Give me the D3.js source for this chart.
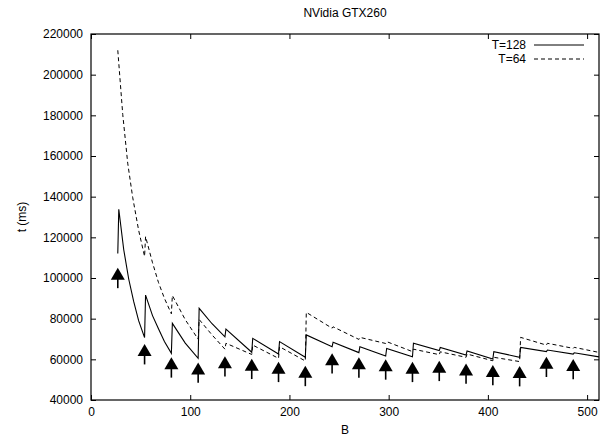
<!DOCTYPE html>
<html><head><meta charset="utf-8">
<script src="https://cdn.jsdelivr.net/npm/d3@7"></script>
<style>
body{margin:0;background:#fff}
text{font-family:"Liberation Sans",Arial,Helvetica,sans-serif;font-size:12px;fill:#000}
</style>
</head><body><svg id="c" width="605" height="437"></svg>
<script>
// ---- data ----
const title = "NVidia GTX260";
const xLabel = "B";
const yLabel = "t (ms)";
const xTicks = [0,100,200,300,400,500];
const yTicks = [40000,60000,80000,100000,120000,140000,160000,180000,200000,220000];

const seriesNames = ["T=128","T=64"];

const b128 = [27,28,33,38,43,48,54, 55,62,68,74,81, 82,95,108, 109,122,135, 136,162, 163,189, 190,216,
  217,243, 244,270, 271,297, 298,324, 325,351, 352,378, 379,405, 406,432, 433,459, 460,486, 487,512];
const t128 = [112000,133800,113900,99500,88500,79000,70700, 91600,81500,75000,68800,63000, 77700,68000,60500,
  85100,77500,71100, 74900,63500, 70300,62600, 68700,61000, 72000,66200, 68400,63300, 66200,61600,
  65400,61300, 67900,64300, 65800,62100, 64100,60200, 63800,61000, 65900,63800, 64600,62600, 63200,61200];

const b64 = [27,32,37,42,48,54, 55,62,68,74,81, 82,95,108, 109,122,135, 136,162, 163,189, 190,216,
  217,243, 244,270, 271,297, 298,324, 325,351, 352,378, 379,405, 406,432, 433,459, 460,486, 487,512];
const t64 = [212000,180400,156500,139700,123500,110600, 120400,107500,97800,90000,82400, 91400,79500,69900,
  79600,72000,65000, 67900,62400, 67000,60500, 66200,59200, 83100,75300, 76000,69800, 70800,67800,
  68700,63800, 65000,62300, 63700,61000, 62600,59300, 61000,58900, 70800,67000, 67900,65400, 65900,63400];

const arrowB = [27,54,81,108,135,162,189,216,243,270,297,324,351,378,405,432,459,486];
const arrowT = [105000,67500,61000,58500,61500,60300,58800,56800,63000,61000,60000,58800,59300,58000,57200,56700,61300,60200];
const arrowLen = 10000; // stem length in data units

// ---- drawing ----
const svg = d3.select("#c");
const L = 91, R = 599, T = 34, Bm = 400;
const x = d3.scaleLinear().domain([0,512]).range([L,R]);
const y = d3.scaleLinear().domain([40000,220000]).range([Bm,T]);

// axes (inward ticks, mirrored)
const gx = svg.append("g").attr("transform",`translate(0,${Bm})`)
  .call(d3.axisBottom(x).tickValues(xTicks).tickSize(-5).tickPadding(7).tickFormat(d3.format("d")));
const gy = svg.append("g").attr("transform",`translate(${L},0)`)
  .call(d3.axisLeft(y).tickValues(yTicks).tickSize(-5).tickPadding(8).tickFormat(d3.format("d")));
const gt = svg.append("g").attr("transform",`translate(0,${T})`)
  .call(d3.axisTop(x).tickValues(xTicks).tickSize(-5).tickFormat(""));
const gr = svg.append("g").attr("transform",`translate(${R},0)`)
  .call(d3.axisRight(y).tickValues(yTicks).tickSize(-5).tickFormat(""));
[gx,gy,gt,gr].forEach(g=>{
  g.select(".domain").remove();
  g.selectAll(".tick line").attr("stroke","#000").attr("stroke-width",1);
  g.selectAll("text").attr("font-size",12).attr("font-family",'"Liberation Sans",Arial,sans-serif').attr("fill","#000");
});
svg.append("rect").attr("x",L).attr("y",T).attr("width",R-L).attr("height",Bm-T)
  .attr("fill","none").attr("stroke","#000").attr("stroke-width",1.2);

// labels
svg.append("text").attr("x",(L+R)/2).attr("y",17).attr("text-anchor","middle").text(title);
svg.append("text").attr("x",(L+R)/2).attr("y",434).attr("text-anchor","middle").text(xLabel);
svg.append("text").attr("transform",`translate(26,${(T+Bm)/2}) rotate(-90)`).attr("text-anchor","middle").text(yLabel);

// lines
const line = d3.line().x(d=>x(d[0])).y(d=>y(d[1]));
const d128 = b128.map((b,i)=>[b,t128[i]]);
const d64 = b64.map((b,i)=>[b,t64[i]]);
svg.append("path").datum(d64).attr("d",line).attr("fill","none").attr("stroke","#000")
  .attr("stroke-width",1).attr("stroke-dasharray","4,3");
svg.append("path").datum(d128).attr("d",line).attr("fill","none").attr("stroke","#000")
  .attr("stroke-width",1.1);

// arrows
const ag = svg.append("g");
arrowB.forEach((b,i)=>{
  const cx = x(b), ty = y(arrowT[i]), by = y(arrowT[i]-arrowLen);
  ag.append("line").attr("x1",cx).attr("x2",cx).attr("y1",ty+8).attr("y2",by)
    .attr("stroke","#000").attr("stroke-width",1.6);
  ag.append("path").attr("d",`M${cx},${ty} L${cx-7},${ty+12} L${cx+7},${ty+12} Z`).attr("fill","#000");
});

// legend
const lg = svg.append("g");
seriesNames.forEach((n,i)=>{
  const yy = 45 + i*14;
  lg.append("text").attr("x",526).attr("y",yy+4).attr("text-anchor","end").text(n);
  lg.append("line").attr("x1",534).attr("x2",584).attr("y1",yy).attr("y2",yy)
    .attr("stroke","#000").attr("stroke-width",1)
    .attr("stroke-dasharray", i===1 ? "4,3" : null);
});
</script>
</body></html>
